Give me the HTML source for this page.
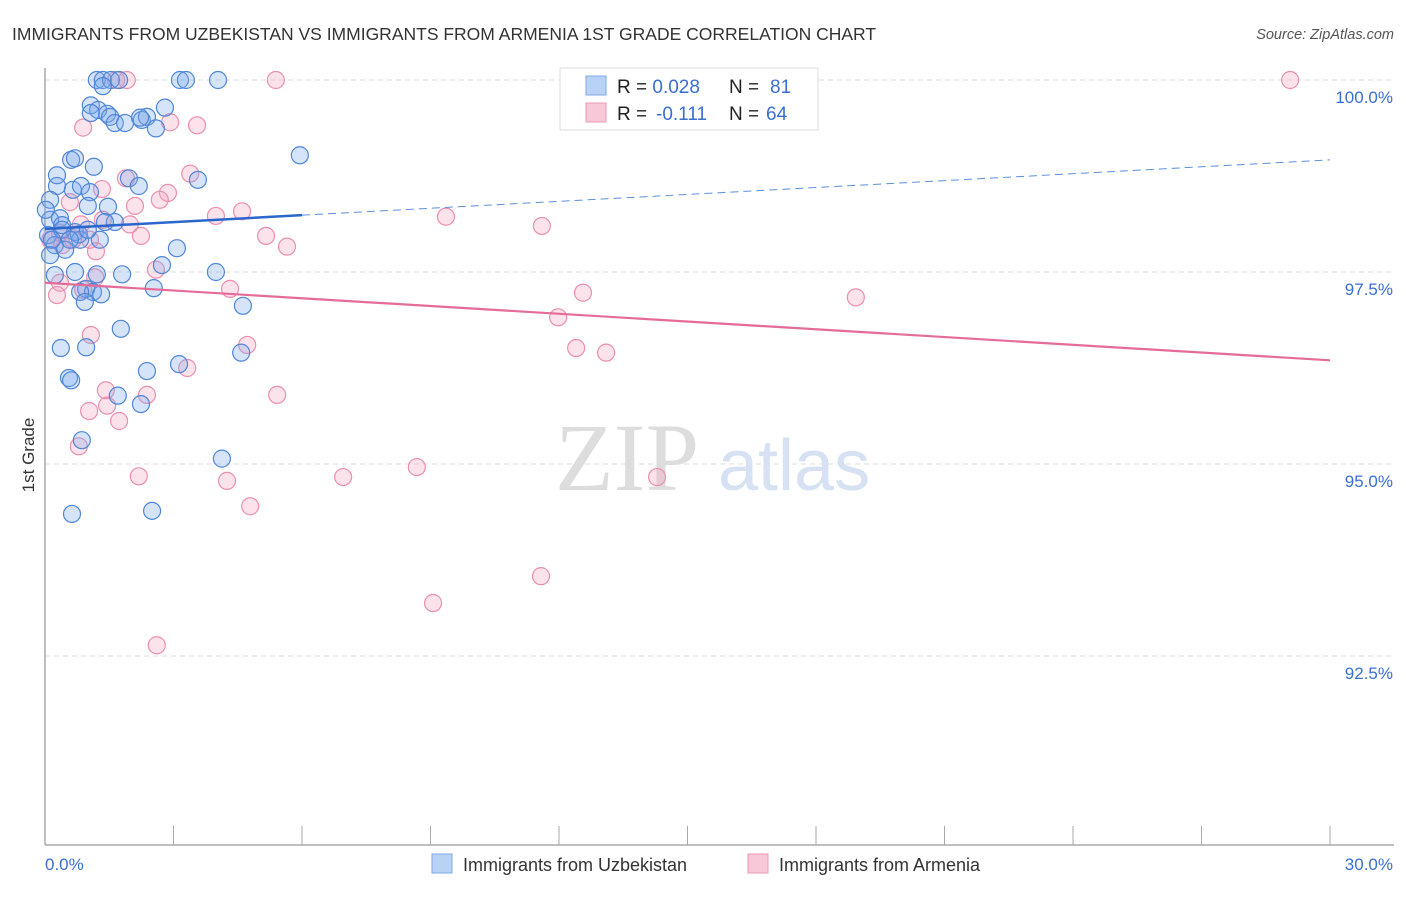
<!DOCTYPE html>
<html><head><meta charset="utf-8"><style>
body{margin:0;background:#fff;font-family:"Liberation Sans",sans-serif;}
svg text{font-family:"Liberation Sans",sans-serif;}
</style></head><body>
<svg id="chart" width="1406" height="892" xmlns="http://www.w3.org/2000/svg">
<text x="12" y="40" font-size="17.5" fill="#333">IMMIGRANTS FROM UZBEKISTAN VS IMMIGRANTS FROM ARMENIA 1ST GRADE CORRELATION CHART</text>
<text x="1394" y="39" font-size="14.5" fill="#555" font-style="italic" text-anchor="end">Source: ZipAtlas.com</text>
<g id="grid"></g>
<text x="555" y="490" font-size="96" fill="#ddd" font-family="Liberation Serif" style="font-family:'Liberation Serif',serif">ZIP</text>
<text x="718" y="490" font-size="72" fill="#d6e2f3">atlas</text>
<g id="pts"></g>
<g id="trends"></g>
<text transform="translate(34,455) rotate(-90)" font-size="17" fill="#333" text-anchor="middle">1st Grade</text>
<g>
<rect x="560" y="68" width="258" height="62" fill="#fff" stroke="#ddd"/>
<rect x="586" y="76" width="20" height="19" fill="#b8d2f5" stroke="#7fa8e6"/>
<rect x="586" y="103" width="20" height="19" fill="#f9c8d8" stroke="#ec9ab5"/>
<text x="617" y="93" font-size="19" fill="#222">R = <tspan fill="#3a6fd0">0.028</tspan><tspan x="729">N = </tspan><tspan x="770" fill="#3a6fd0">81</tspan></text>
<text x="617" y="120" font-size="19" fill="#222">R = <tspan x="656" fill="#3a6fd0">-0.111</tspan><tspan x="729">N = </tspan><tspan x="766" fill="#3a6fd0">64</tspan></text>
</g>
<g>
<rect x="432" y="854" width="20" height="19" fill="#b8d2f5" stroke="#7fa8e6"/>
<text x="463" y="871" font-size="18" fill="#333">Immigrants from Uzbekistan</text>
<rect x="748" y="854" width="20" height="19" fill="#f9c8d8" stroke="#ec9ab5"/>
<text x="779" y="871" font-size="18" fill="#333">Immigrants from Armenia</text>
</g>
</svg>
<script>
const yTicks=[100,97.5,95,92.5];
const yTickLabels=["100.0%","97.5%","95.0%","92.5%"];
const xTickLabels=["0.0%","30.0%"];
const blueX=[1.21,1.35,1.54,1.73,3.15,3.29,4.04,1.35,1.07,1.24,1.45,1.07,1.52,1.63,1.87,2.26,2.38,2.59,2.80,2.22,5.95,0.61,0.70,1.14,0.28,0.65,0.84,1.05,1.96,2.19,3.57,1.00,1.47,1.63,1.40,0.12,0.12,0.35,0.07,0.23,0.40,0.70,0.82,0.12,0.47,0.79,3.08,2.73,1.21,1.80,0.70,0.23,3.99,2.54,0.96,1.12,1.31,0.82,0.93,4.62,1.77,0.37,0.96,4.58,2.38,3.13,0.56,0.61,1.70,2.24,0.86,4.13,0.63,2.50,0.28,0.40,0.16,0.58,1.28,0.02,1.00];
const blueY=[100,100,100,100,100,100,100,99.92,99.67,99.61,99.56,99.57,99.52,99.44,99.44,99.48,99.52,99.37,99.64,99.51,99.02,98.96,98.98,98.87,98.62,98.57,98.62,98.54,98.72,98.62,98.70,98.36,98.35,98.15,98.15,98.44,98.18,98.20,97.98,97.85,98.11,98.02,97.92,97.72,97.79,97.99,97.81,97.59,97.47,97.47,97.50,97.46,97.50,97.29,97.28,97.24,97.21,97.24,97.11,97.06,96.76,96.51,96.52,96.45,96.21,96.30,96.12,96.09,95.89,95.78,95.31,95.07,94.35,94.39,98.76,98.05,97.92,97.92,97.92,98.31,98.05];
const pinkX=[1.66,1.91,5.39,29.07,0.89,2.92,3.55,3.39,1.89,1.33,2.87,2.68,0.58,2.10,3.99,4.60,1.35,0.84,1.98,2.24,5.16,5.65,1.19,0.65,0.35,2.59,1.17,0.35,0.28,4.32,0.89,9.36,11.60,12.56,11.98,12.40,13.10,18.93,1.07,4.72,3.32,5.42,1.42,2.38,1.03,1.45,1.73,0.79,2.19,4.25,4.79,2.61,6.96,8.68,14.29,11.58,9.06,0.12,0.40,1.05];
const pinkY=[100,100,100,100,99.38,99.45,99.41,98.78,98.72,98.58,98.53,98.44,98.41,98.36,98.23,98.29,98.18,98.12,98.12,97.97,97.97,97.83,97.77,97.92,98.01,97.53,97.43,97.36,97.20,97.28,97.27,98.22,98.10,97.23,96.91,96.51,96.45,97.17,96.68,96.55,96.25,95.90,95.96,95.90,95.69,95.76,95.56,95.23,94.84,94.78,94.45,92.64,94.83,94.96,94.83,93.54,93.19,97.92,97.85,97.92];
const blueTrend=[98.06,98.96];
const pinkTrend=[97.36,96.35];
const blueSolidEnd=6;
const NS="http://www.w3.org/2000/svg";
const X0=45,X1=1330,Y100=80,PX25=192,YB=845;
function sx(v){return X0+(v/30)*(X1-X0);}
function sy(v){return Y100+(100-v)/2.5*PX25;}
function mk(tag,attrs,parent){const e=document.createElementNS(NS,tag);for(const k in attrs)e.setAttribute(k,attrs[k]);parent.appendChild(e);return e;}
const grid=document.getElementById('grid');
yTicks.forEach((t,i)=>{
 const l=mk('line',{x1:X0,x2:1394,y1:sy(t),y2:sy(t),stroke:'#ddd','stroke-dasharray':'5,4'},grid);
 
 
 const tx=mk('text',{x:1393,y:sy(t)+23,'font-size':17,fill:'#3a6fd0','text-anchor':'end'},grid);
 tx.textContent=yTickLabels[i];
 
 
});
const ax=mk('line',{x1:X0,x2:X0,y1:68,y2:YB,stroke:'#aaa','stroke-width':1.5},grid);


const bx=mk('line',{x1:X0,x2:1394,y1:YB,y2:YB,stroke:'#aaa','stroke-width':1.5},grid);


for(let i=0;i<=10;i++){
 const t=mk('line',{x1:sx(i*3),x2:sx(i*3),y1:826,y2:YB,stroke:'#aaa'},grid);
 
 
}
const xl0=mk('text',{x:45,y:870,'font-size':17,fill:'#3a6fd0'},grid);xl0.textContent=xTickLabels[0];


const xl1=mk('text',{x:1393,y:870,'font-size':17,fill:'#3a6fd0','text-anchor':'end'},grid);xl1.textContent=xTickLabels[1];


const pts=document.getElementById('pts');
pinkX.forEach((x,i)=>{const c=mk('circle',{cx:sx(x),cy:sy(pinkY[i]),r:8.5,fill:'rgba(244,160,188,0.3)',stroke:'#eb8fae','stroke-width':1.2},pts);
 
 });
blueX.forEach((x,i)=>{const c=mk('circle',{cx:sx(x),cy:sy(blueY[i]),r:8.5,fill:'rgba(120,165,235,0.3)',stroke:'#4f86d8','stroke-width':1.2},pts);
 
 });
const tr=document.getElementById('trends');
function ty(a,x){return a[0]+(a[1]-a[0])*x/30;}
const b1=mk('line',{x1:sx(0),y1:sy(blueTrend[0]),x2:sx(blueSolidEnd),y2:sy(ty(blueTrend,blueSolidEnd)),stroke:'#2a66cc','stroke-width':2.5},tr);


const b2=mk('line',{x1:sx(blueSolidEnd),y1:sy(ty(blueTrend,blueSolidEnd)),x2:sx(30),y2:sy(blueTrend[1]),stroke:'#5b8fdc','stroke-width':1,'stroke-dasharray':'8,5'},tr);


const p1=mk('line',{x1:sx(0),y1:sy(pinkTrend[0]),x2:sx(30),y2:sy(pinkTrend[1]),stroke:'#e56b98','stroke-width':2.2},tr);


</script>
</body></html>
